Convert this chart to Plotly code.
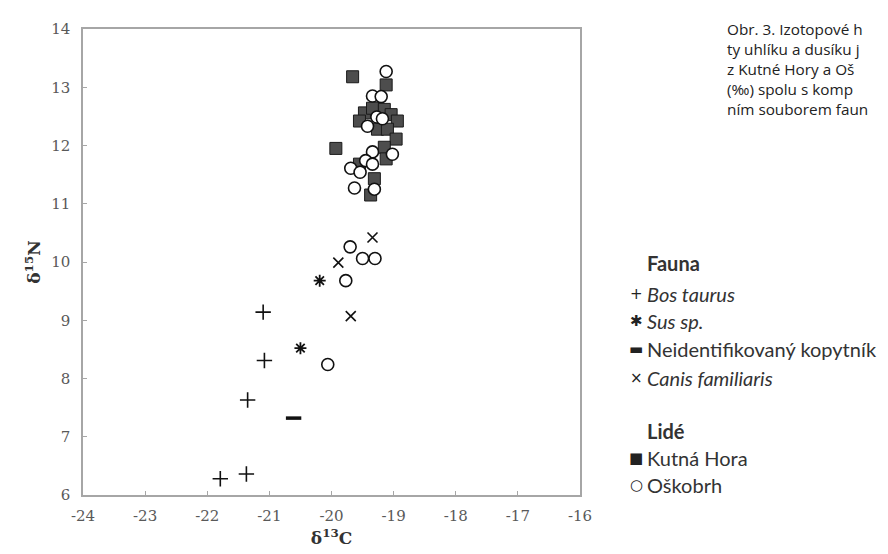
import plotly.graph_objects as go

# --- data (δ13C, δ15N) ---
bos_x = [-21.10, -21.08, -21.35, -21.79, -21.37]
bos_y = [9.14, 8.31, 7.63, 6.28, 6.36]

sus_x = [-20.19, -20.50]
sus_y = [9.68, 8.52]

neid_x = [-20.61]
neid_y = [7.32]

canis_x = [-19.34, -19.89, -19.69]
canis_y = [10.42, 9.99, 9.07]

kutna_x = [-19.66, -19.93, -19.12, -19.47, -19.34, -19.15, -19.04, -19.55, -18.94,
           -19.26, -19.10, -18.96, -19.15, -19.12, -19.55, -19.31, -19.37]
kutna_y = [13.18, 11.95, 13.04, 12.56, 12.64, 12.62, 12.53, 12.42, 12.42,
           12.28, 12.28, 12.11, 11.97, 11.77, 11.68, 11.43, 11.15]

osk_x = [-19.12, -19.34, -19.20, -19.27, -19.18, -19.42, -19.02, -19.34, -19.45,
         -19.34, -19.69, -19.54, -19.63, -19.31,
         -19.70, -19.50, -19.30, -19.77, -20.06]
osk_y = [13.27, 12.85, 12.84, 12.49, 12.46, 12.33, 11.85, 11.89, 11.74,
         11.68, 11.61, 11.54, 11.27, 11.25,
         10.26, 10.06, 10.06, 9.68, 8.24]

x_ticks = [-24, -23, -22, -21, -20, -19, -18, -17, -16]
y_ticks = [6, 7, 8, 9, 10, 11, 12, 13, 14]

# legend rows: (symbol, label, y pixel)
legend_headers = [("<b>Fauna</b>", 252), ("<b>Lidé</b>", 422)]
legend_items = [
    ("+", "<i>Bos taurus</i>", 283),
    ("✱", "<i>Sus sp.</i>", 311),
    ("▬", "Neidentifikovaný kopytník", 339),
    ("×", "<i>Canis familiaris</i>", 368),
    ("■", "Kutná Hora", 450),
    ("○", "Oškobrh", 477),
]

caption_lines = [
    "Obr. 3. Izotopové h",
    "ty uhlíku a dusíku j",
    "z Kutné Hory a Oš",
    "(‰) spolu s komp",
    "ním souborem faun",
]

W, H = 888, 554
ML, MR, MT, MB = 75, 316, 15, 67
PW, PH = W - ML - MR, H - MT - MB


def px(xp):
    return (xp - ML) / PW


def py(yp):
    return (H - MB - yp) / PH


fig = go.Figure()

fig.add_trace(go.Scatter(x=kutna_x, y=kutna_y, mode="markers", name="Kutná Hora",
                         marker=dict(symbol="square", size=12, color="#4d4d4d",
                                     line=dict(color="#1a1a1a", width=1))))
fig.add_trace(go.Scatter(x=osk_x, y=osk_y, mode="markers", name="Oškobrh",
                         marker=dict(symbol="circle", size=12, color="white",
                                     line=dict(color="#111", width=1.6))))
fig.add_trace(go.Scatter(x=bos_x, y=bos_y, mode="markers", name="Bos taurus",
                         marker=dict(symbol="cross-thin-open", size=11, color="#111",
                                     line=dict(color="#111", width=1.6))))
fig.add_trace(go.Scatter(x=sus_x, y=sus_y, mode="markers", name="Sus sp.",
                         marker=dict(symbol="asterisk-open", size=10, color="#111",
                                     line=dict(color="#111", width=1.8))))
fig.add_trace(go.Scatter(x=neid_x, y=neid_y, mode="markers", name="Neidentifikovaný kopytník",
                         marker=dict(symbol="line-ew-open", size=11, color="#111",
                                     line=dict(color="#111", width=3.5))))
fig.add_trace(go.Scatter(x=canis_x, y=canis_y, mode="markers", name="Canis familiaris",
                         marker=dict(symbol="x-thin-open", size=10, color="#111",
                                     line=dict(color="#111", width=1.6))))

LFONT = dict(family="Lato, Open Sans, sans-serif", size=20, color="#333")
annotations = []
for txt, ypx in legend_headers:
    annotations.append(dict(text=txt, xref="paper", yref="paper", x=px(637), y=py(ypx),
                            xanchor="left", yanchor="middle", showarrow=False, font=LFONT))
for sym, txt, ypx in legend_items:
    annotations.append(dict(text=sym, xref="paper", yref="paper", x=px(628), y=py(ypx),
                            xanchor="center", yanchor="middle", showarrow=False,
                            font=dict(family="DejaVu Sans, sans-serif", size=15, color="#222")))
    annotations.append(dict(text=txt, xref="paper", yref="paper", x=px(637), y=py(ypx),
                            xanchor="left", yanchor="middle", showarrow=False, font=LFONT))

annotations.append(dict(text="<br>".join(caption_lines), xref="paper", yref="paper",
                        x=px(717), y=py(3), xanchor="left", yanchor="top", align="left",
                        showarrow=False,
                        font=dict(family="Open Sans, sans-serif", size=15.3, color="#222")))

TICKFONT = dict(family="DejaVu Serif", size=15, color="#595959")
fig.update_layout(
    width=W, height=H,
    margin=dict(l=ML, r=MR, t=MT, b=MB),
    paper_bgcolor="white", plot_bgcolor="white",
    showlegend=False,
    annotations=annotations,
    xaxis=dict(range=[-24, -16], tickvals=x_ticks, ticktext=[str(v) for v in x_ticks],
               showgrid=False, zeroline=False, showline=True, mirror=True,
               linecolor="#a6a6a6", linewidth=1.5, ticks="inside", ticklen=4,
               tickcolor="#a6a6a6", ticklabelstandoff=6,
               tickfont=TICKFONT,
               title=dict(text="<b>δ<sup>13</sup>C</b>", standoff=8,
                          font=dict(family="DejaVu Serif", size=17, color="#333"))),
    yaxis=dict(range=[6, 14], tickvals=y_ticks, ticktext=[str(v) for v in y_ticks],
               showgrid=False, zeroline=False, showline=True, mirror=True,
               linecolor="#a6a6a6", linewidth=1.5, ticks="inside", ticklen=4,
               tickcolor="#a6a6a6", ticklabelstandoff=8,
               tickfont=TICKFONT,
               title=dict(text="<b>δ<sup>15</sup>N</b>", standoff=6,
                          font=dict(family="DejaVu Serif", size=17, color="#333"))),
)

fig.write_html("out.html")
